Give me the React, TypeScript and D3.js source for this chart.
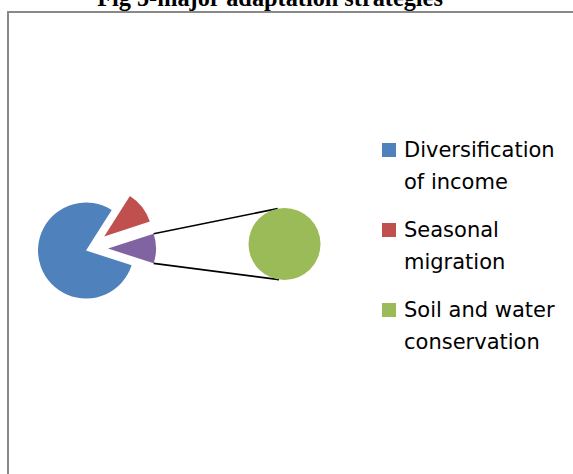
import React from "react";
import * as d3 from "d3";

const categories = ["Diversification of income", "Seasonal migration", "Soil and water conservation"];
const legendLines = [["Diversification", "of income"], ["Seasonal", "migration"], ["Soil and water", "conservation"]];
const values = [79, 11, 10];
const colors = ["#4F81BD", "#C0504D", "#9BBB59"];
const otherColor = "#8064A2";
const title = "Fig 5-major adaptation strategies";

export default function App() {
  const W = 573, H = 474;
  const cx = 86, cy = 250.5, r = 48;
  const explode = 22;
  const total = d3.sum(values);
  // main pie: first two categories + "Other" (third category goes to secondary pie)
  const mainVals = [values[0], values[1], values[2]];
  const otherAngle = (values[2] / total) * 2 * Math.PI;
  const start = Math.PI / 2 + otherAngle / 2;
  const pie = d3.pie<number>().sort(null).startAngle(start).endAngle(start + 2 * Math.PI);
  const arcs = pie(mainVals);
  const arcGen = d3.arc<d3.PieArcDatum<number>>().innerRadius(0).outerRadius(r);
  const mainColors = [colors[0], colors[1], otherColor];
  const explodes = [0, explode + 1, explode];

  const offs = arcs.map((a, i) => {
    const m = (a.startAngle + a.endAngle) / 2;
    return [explodes[i] * Math.sin(m), -explodes[i] * Math.cos(m) - (i === 2 ? 2 : 0)];
  });

  // secondary pie
  const sx = 284.5, sy = 244, sr = 36;
  const secPie = d3.pie<number>().sort(null)([values[2]]);
  const secArc = d3.arc<d3.PieArcDatum<number>>().innerRadius(0).outerRadius(sr);

  const o = arcs[2];
  const po = offs[2];
  const p1 = [cx + po[0] + r * Math.sin(o.startAngle), cy + po[1] - r * Math.cos(o.startAngle)];
  const p2 = [cx + po[0] + r * Math.sin(o.endAngle), cy + po[1] - r * Math.cos(o.endAngle)];
  const a1 = -10.8 * Math.PI / 180, a2 = 188.7 * Math.PI / 180;
  const q1 = [sx + sr * Math.sin(a1), sy - sr * Math.cos(a1)];
  const q2 = [sx + sr * Math.sin(a2), sy - sr * Math.cos(a2)];

  const legendX = 382, legendY0 = 157, legendStep = 80;

  return (
    <div style={{ position: "absolute", left: 0, top: 0 }}>
      <svg width={W} height={H} style={{ display: "block", background: "#fff" }}>
        <rect x={0} y={0} width={W} height={H} fill="#fff" />
        <text x={270} y={6} textAnchor="middle" fontFamily="'Liberation Serif', 'Times New Roman', serif" fontWeight="bold" fontSize={24.3} fill="#000">{title}</text>
        <rect x={8} y={12} width={W + 10} height={H + 10} fill="none" stroke="#898989" strokeWidth={2} />
        <g>
          {arcs.map((a, i) => (
            <path key={i} d={arcGen(a) || ""} transform={`translate(${cx + offs[i][0]},${cy + offs[i][1]})`} fill={mainColors[i]} />
          ))}
        </g>
        <line x1={p1[0]} y1={p1[1]} x2={q1[0]} y2={q1[1]} stroke="#000" strokeWidth={1.6} />
        <line x1={p2[0]} y1={p2[1]} x2={q2[0]} y2={q2[1]} stroke="#000" strokeWidth={1.6} />
        <g transform={`translate(${sx},${sy})`}>
          {secPie.map((a, i) => (
            <path key={i} d={secArc(a) || ""} fill={colors[2]} />
          ))}
        </g>
        <g fontFamily="'DejaVu Sans', sans-serif" fontSize={21} fill="#000">
          {categories.map((c, i) => {
            const by = legendY0 + i * legendStep;
            return (
              <g key={c}>
                <rect x={legendX} y={by - 14} width={14} height={14} fill={colors[i]} />
                {legendLines[i].map((ln, j) => (
                  <text key={j} x={404} y={by + j * 32}>{ln}</text>
                ))}
              </g>
            );
          })}
        </g>
      </svg>
    </div>
  );
}
